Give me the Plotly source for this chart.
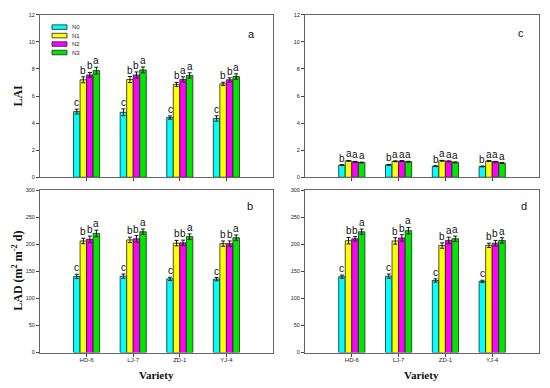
import plotly.graph_objects as go
from plotly.subplots import make_subplots

varieties = ["HD-6", "LJ-7", "ZD-1", "YJ-4"]
series = ["N0", "N1", "N2", "N3"]
colors = ["#00FFFF", "#FFFF00", "#FF00FF", "#00E600"]

# Panel a: LAI (stage 1)
lai_a = {
    "N0": [4.85, 4.80, 4.41, 4.34],
    "N1": [7.20, 7.22, 6.86, 6.90],
    "N2": [7.56, 7.56, 7.22, 7.20],
    "N3": [7.88, 7.93, 7.52, 7.44],
}
lai_a_err = {
    "N0": [0.18, 0.25, 0.12, 0.20],
    "N1": [0.22, 0.22, 0.15, 0.12],
    "N2": [0.18, 0.22, 0.20, 0.15],
    "N3": [0.25, 0.22, 0.20, 0.20],
}
lai_a_sig = {
    "N0": ["c", "c", "c", "c"],
    "N1": ["b", "b", "b", "b"],
    "N2": ["b", "b", "a", "b"],
    "N3": ["a", "a", "a", "a"],
}

# Panel c: LAI (stage 2)
lai_c = {
    "N0": [0.90, 0.92, 0.82, 0.80],
    "N1": [1.21, 1.18, 1.22, 1.20],
    "N2": [1.14, 1.20, 1.18, 1.14],
    "N3": [1.09, 1.15, 1.10, 1.05],
}
lai_c_err = {
    "N0": [0.03, 0.03, 0.03, 0.03],
    "N1": [0.03, 0.03, 0.03, 0.03],
    "N2": [0.03, 0.03, 0.03, 0.03],
    "N3": [0.03, 0.03, 0.03, 0.03],
}
lai_c_sig = {
    "N0": ["b", "b", "b", "b"],
    "N1": ["a", "a", "a", "a"],
    "N2": ["a", "a", "a", "a"],
    "N3": ["a", "a", "a", "a"],
}

# Panel b: LAD (stage 1)
lad_b = {
    "N0": [140.5, 141.0, 136.0, 135.5],
    "N1": [206.0, 208.0, 202.0, 201.0],
    "N2": [209.0, 210.0, 202.5, 201.0],
    "N3": [220.0, 223.0, 214.0, 212.0],
}
lad_b_err = {
    "N0": [4, 4, 3, 3],
    "N1": [5, 5, 5, 5],
    "N2": [6, 6, 5, 5],
    "N3": [6, 5, 5, 5],
}
lad_b_sig = {
    "N0": ["c", "c", "c", "c"],
    "N1": ["b", "b", "b", "b"],
    "N2": ["b", "b", "b", "b"],
    "N3": ["a", "a", "a", "a"],
}

# Panel d: LAD (stage 2)
lad_d = {
    "N0": [140.0, 141.0, 133.0, 131.5],
    "N1": [206.5, 206.0, 197.5, 198.0],
    "N2": [210.0, 211.5, 207.0, 202.0],
    "N3": [223.0, 225.0, 210.0, 207.0],
}
lad_d_err = {
    "N0": [3, 4, 3, 2],
    "N1": [6, 6, 5, 4],
    "N2": [4, 6, 6, 5],
    "N3": [5, 6, 5, 5],
}
lad_d_sig = {
    "N0": ["c", "c", "c", "c"],
    "N1": ["b", "b", "b", "b"],
    "N2": ["b", "b", "a", "b"],
    "N3": ["a", "a", "a", "a"],
}

lai_ticks = [0, 2, 4, 6, 8, 10, 12]
lad_ticks = [0, 50, 100, 150, 200, 250, 300]
panel_letters = ["a", "c", "b", "d"]

W, H = 550, 388
def px_x(p):
    return p / W
def px_y(p):
    return 1 - p / H

fig = make_subplots(rows=2, cols=2)

panels = [
    (1, 1, lai_a, lai_a_err, lai_a_sig, [0, 12], lai_ticks),
    (1, 2, lai_c, lai_c_err, lai_c_sig, [0, 12], lai_ticks),
    (2, 1, lad_b, lad_b_err, lad_b_sig, [0, 300], lad_ticks),
    (2, 2, lad_d, lad_d_err, lad_d_sig, [0, 300], lad_ticks),
]

xdom = {1: [px_x(40), px_x(273)], 2: [px_x(305), px_x(539)]}
ydom = {1: [px_y(177), px_y(12)], 2: [px_y(355), px_y(190)]}

bargap = 0.44
bw = (1 - bargap) / len(series)

annotations = []
for k, (r, c, vals, errs, sigs, yr, ticks) in enumerate(panels):
    for i, s in enumerate(series):
        fig.add_trace(go.Bar(
            x=varieties, y=vals[s], name=s, showlegend=False,
            marker=dict(color=colors[i], line=dict(color="#222", width=0.8)),
            error_y=dict(type="data", array=errs[s], visible=True,
                         color="black", thickness=0.9, width=2),
        ), row=r, col=c)
        axn = "" if k == 0 else str(k + 1)
        for j, v in enumerate(varieties):
            annotations.append(dict(
                x=j + (i - 1.5) * bw, y=vals[s][j] + errs[s][j],
                xref="x" + axn, yref="y" + axn, text=sigs[s][j],
                showarrow=False, xanchor="center", yanchor="bottom", yshift=-1,
                font=dict(family="Arial", size=10, color="#111"),
            ))
    fig.update_xaxes(
        domain=xdom[c], range=[-1, 4], type="category",
        categoryorder="array", categoryarray=varieties,
        showline=True, linecolor="#666", linewidth=1, mirror=True,
        ticks="outside", ticklen=3, tickcolor="#444",
        showticklabels=(r == 2), ticklabelstandoff=-2,
        tickfont=dict(family="Arial Black, Arial", size=6, color="#222"),
        showgrid=False, zeroline=False, row=r, col=c)
    fig.update_yaxes(
        domain=ydom[r], range=yr, tickvals=ticks,
        showline=True, linecolor="#666", linewidth=1, mirror=True,
        ticks="outside", ticklen=3, tickcolor="#444",
        tickfont=dict(family="Arial Black, Arial", size=5.5, color="#222"),
        showgrid=False, zeroline=False, row=r, col=c)

# panel letters
letter_pos = [(251, 31), (521, 30), (250, 206), (524, 206)]
for L, (lx, ly) in zip(panel_letters, letter_pos):
    annotations.append(dict(x=px_x(lx), y=px_y(ly), xref="paper", yref="paper",
                            text=L, showarrow=False, xanchor="center", yanchor="middle",
                            font=dict(family="Arial", size=11, color="#111")))

# axis titles
annotations.append(dict(x=px_x(18), y=px_y(94), xref="paper", yref="paper",
                        text="<b>LAI</b>", textangle=-90, showarrow=False,
                        xanchor="center", yanchor="middle",
                        font=dict(family="Liberation Serif", size=12, color="#111")))
annotations.append(dict(x=px_x(18), y=px_y(272), xref="paper", yref="paper",
                        text="<b>LAD (m<sup>2</sup> m<sup>-2</sup> d)</b>", textangle=-90,
                        showarrow=False, xanchor="center", yanchor="middle",
                        font=dict(family="Liberation Serif", size=12, color="#111")))
for cx in [156, 422]:
    annotations.append(dict(x=px_x(cx), y=px_y(378), xref="paper", yref="paper",
                            text="<b>Variety</b>", showarrow=False,
                            xanchor="center", yanchor="middle",
                            font=dict(family="Liberation Serif", size=11, color="#111")))

# legend (drawn)
shapes = []
for i, s in enumerate(series):
    yc = 24.5 + i * 8.6
    shapes.append(dict(type="rect", xref="paper", yref="paper",
                       x0=px_x(52), x1=px_x(67), y0=px_y(yc + 2.3), y1=px_y(yc - 2.3),
                       fillcolor=colors[i], line=dict(color="#222", width=0.8)))
    annotations.append(dict(x=px_x(70), y=px_y(yc), xref="paper", yref="paper",
                            text=s, showarrow=False, xanchor="left", yanchor="middle",
                            font=dict(family="Arial", size=6, color="#222")))

fig.update_layout(
    width=W, height=H, margin=dict(l=0, r=0, t=0, b=0),
    barmode="group", bargap=bargap, bargroupgap=0,
    plot_bgcolor="white", paper_bgcolor="white",
    annotations=annotations, shapes=shapes, showlegend=False,
    hovermode=False,
)

fig.write_html("out.html", config={"displayModeBar": False},
               post_script="document.body.style.margin='0';document.body.style.overflow='hidden';")
